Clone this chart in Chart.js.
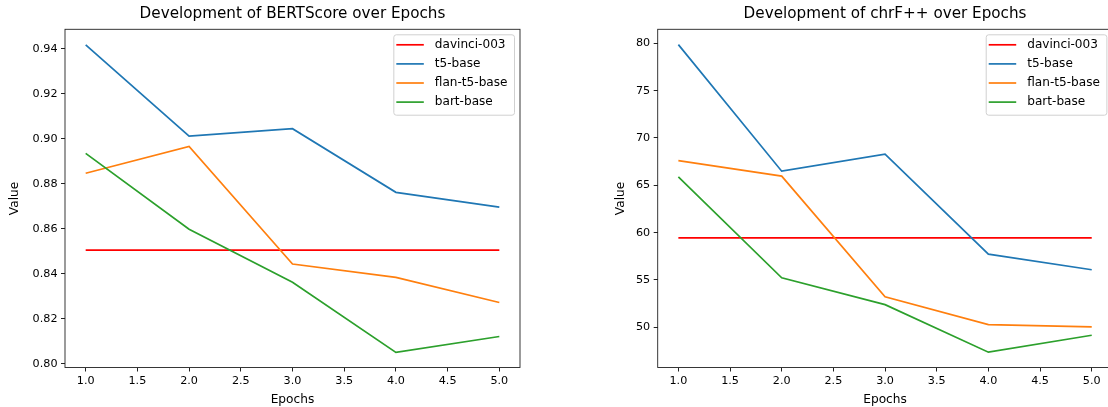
<!DOCTYPE html>
<html>
<head>
<meta charset="utf-8">
<script src="https://cdn.jsdelivr.net/npm/chart.js@4.4.0/dist/chart.umd.min.js"></script>
<style>
  html, body { margin: 0; padding: 0; background: #fff; }
  body { width: 1108px; height: 407px; overflow: hidden; position: relative; }
  canvas { position: absolute; top: 0; }
  #bertChart { left: 0; }
  #chrfChart { left: 560px; }
</style>
</head>
<body>
<canvas id="bertChart" width="560" height="407"></canvas>
<canvas id="chrfChart" width="560" height="407"></canvas>
<script>
// Data
const epochs = [1, 2, 3, 4, 5];
const modelNames = ['davinci-003', 't5-base', 'flan-t5-base', 'bart-base'];
const modelColors = ['#ff0000', '#1f77b4', '#ff7f0e', '#2ca02c'];

const bertDavinci = [0.8505, 0.8505, 0.8505, 0.8505, 0.8505];
const bertT5 = [0.9418, 0.9012, 0.9045, 0.8762, 0.8696];
const bertFlan = [0.8847, 0.8966, 0.8443, 0.8384, 0.8272];
const bertBart = [0.8935, 0.8598, 0.8362, 0.8050, 0.8121];

const chrfDavinci = [59.44, 59.44, 59.44, 59.44, 59.44];
const chrfT5 = [79.86, 66.49, 68.30, 57.73, 56.08];
const chrfFlan = [67.60, 65.97, 53.23, 50.28, 50.04];
const chrfBart = [65.88, 55.23, 52.39, 47.37, 49.16];

const FONT = "'DejaVu Sans', sans-serif";

// full box around the plot area, title over the plot area, legend in the upper right
const framePlugin = {
    id: 'frame',
    afterDraw(chart, args, opts) {
        const ctx = chart.ctx;
        const a = chart.chartArea;
        ctx.save();
        ctx.strokeStyle = '#222';
        ctx.lineWidth = 0.9;
        ctx.strokeRect(a.left, a.top, a.right - a.left, a.bottom - a.top);

        // title
        ctx.fillStyle = '#000';
        ctx.font = '15.2px ' + FONT;
        ctx.textAlign = 'center';
        ctx.textBaseline = 'middle';
        ctx.fillText(opts.text, (a.left + a.right) / 2, 14.5);

        // legend
        ctx.font = '12.1px ' + FONT;
        let textW = 0;
        chart.data.datasets.forEach(ds => {
            textW = Math.max(textW, ctx.measureText(ds.label).width);
        });
        const rowH = 19.1;
        const boxW = 41 + textW + 7;
        const boxH = rowH * chart.data.datasets.length + 4;
        const bx = a.right - 5.5 - boxW;
        const by = a.top + 5.5;
        ctx.fillStyle = 'rgba(255,255,255,0.8)';
        ctx.strokeStyle = '#d0d0d0';
        ctx.lineWidth = 1;
        ctx.beginPath();
        ctx.roundRect(bx, by, boxW, boxH, 2.5);
        ctx.fill();
        ctx.stroke();
        chart.data.datasets.forEach((ds, i) => {
            const cy = by + 10 + i * rowH;
            ctx.strokeStyle = ds.borderColor;
            ctx.lineWidth = 1.7;
            ctx.beginPath();
            ctx.moveTo(bx + 2.5, cy);
            ctx.lineTo(bx + 30, cy);
            ctx.stroke();
            ctx.fillStyle = '#000';
            ctx.textBaseline = 'middle';
            ctx.textAlign = 'left';
            ctx.fillText(ds.label, bx + 41, cy);
        });
        ctx.restore();
    }
};

function makeSeries(values) {
    return values.map((v, i) => ({ x: epochs[i], y: v }));
}

function createLineChart(canvasId, title, seriesList, yMin, yMax, yStep, yDigits, leftWidth, rightPad, valuePad) {
    const datasets = seriesList.map((values, i) => ({
        label: modelNames[i],
        data: makeSeries(values),
        borderColor: modelColors[i],
        backgroundColor: modelColors[i],
        borderWidth: 1.7,
        pointRadius: 0,
        tension: 0,
        order: seriesList.length - i
    }));

    return new Chart(document.getElementById(canvasId), {
        type: 'line',
        data: { datasets: datasets },
        options: {
            responsive: false,
            animation: false,
            layout: {
                padding: { left: 0, right: rightPad, top: 29.3, bottom: 0 }
            },
            plugins: {
                legend: { display: false },
                tooltip: { enabled: false },
                title: { display: false },
                frame: { text: title }
            },
            scales: {
                x: {
                    type: 'linear',
                    min: 0.8,
                    max: 5.2,
                    afterFit: s => { s.height = 39.5; },
                    border: { display: false },
                    grid: {
                        drawOnChartArea: false,
                        drawTicks: true,
                        tickLength: 4,
                        tickColor: '#222'
                    },
                    ticks: {
                        stepSize: 0.5,
                        includeBounds: false,
                        autoSkip: false,
                        maxRotation: 0,
                        padding: 3,
                        color: '#000',
                        font: { family: FONT, size: 11.2 },
                        callback: v => v.toFixed(1)
                    },
                    title: {
                        display: true,
                        text: 'Epochs',
                        color: '#000',
                        font: { family: FONT, size: 12.2 },
                        padding: { top: 0, bottom: 0 }
                    }
                },
                y: {
                    type: 'linear',
                    min: yMin,
                    max: yMax,
                    afterFit: s => { s.width = leftWidth; },
                    border: { display: false },
                    grid: {
                        drawOnChartArea: false,
                        drawTicks: true,
                        tickLength: 4,
                        tickColor: '#222'
                    },
                    ticks: {
                        stepSize: yStep,
                        includeBounds: false,
                        autoSkip: false,
                        padding: 3.5,
                        color: '#000',
                        font: { family: FONT, size: 11.2 },
                        callback: v => v.toFixed(yDigits)
                    },
                    title: {
                        display: true,
                        text: 'Value',
                        color: '#000',
                        font: { family: FONT, size: 12.2 },
                        padding: { top: valuePad, bottom: 0 }
                    }
                }
            }
        },
        plugins: [framePlugin]
    });
}

document.addEventListener('DOMContentLoaded', function() {
    createLineChart('bertChart', 'Development of BERTScore over Epochs',
        [bertDavinci, bertT5, bertFlan, bertBart], 0.7983, 0.9487, 0.02, 2, 65, 40, 7.5);
    createLineChart('chrfChart', 'Development of chrF++ over Epochs',
        [chrfDavinci, chrfT5, chrfFlan, chrfBart], 45.75, 81.48, 5, 0, 97.7, 7.6, 53.5);
});
</script>
</body>
</html>
